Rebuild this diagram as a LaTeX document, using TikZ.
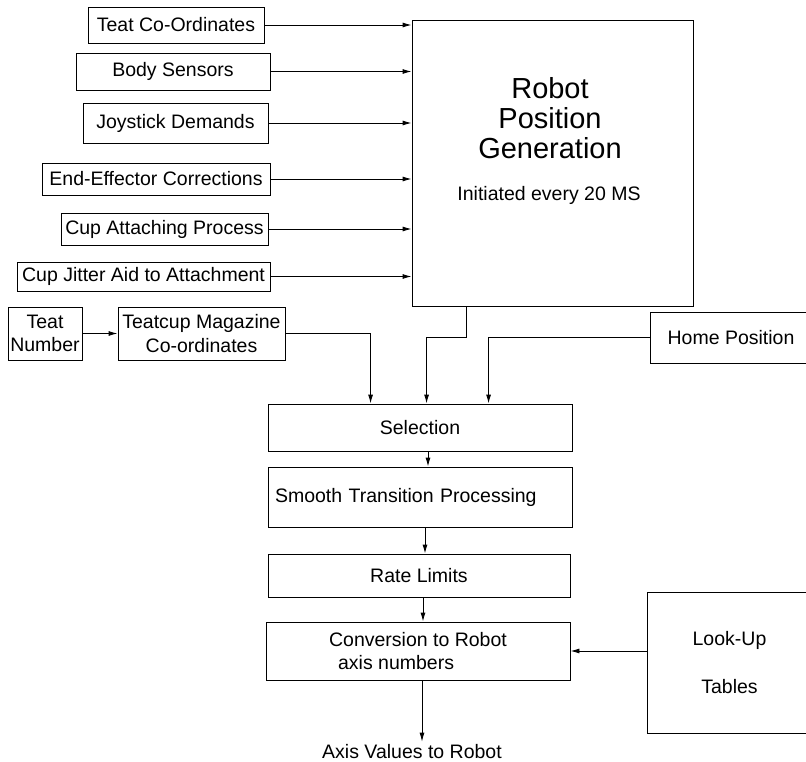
\documentclass[tikz,border=0pt]{standalone}
\usepackage{fontspec}
\setmainfont{Liberation Sans}
\usetikzlibrary{arrows.meta, positioning}
\tikzset{
  inbox/.style={draw, line width=0.9pt, inner sep=2pt,
              minimum width=#1, align=center,
              font=\fontsize{19.5}{23.4}\selectfont},
  procbox/.style={draw, line width=0.9pt, inner sep=2pt,
              minimum width=#1, align=center,
              font=\fontsize{19.5}{23.4}\selectfont},
  plaintext/.style={inner sep=3pt, align=center,
              font=\fontsize{19.5}{23.4}\selectfont},
  flowarr/.style={-{Latex[length=9pt,width=5pt]}, line width=0.9pt},
}

\begin{document}
\begin{tikzpicture}[x=1pt, y=-1pt]
  \useasboundingbox (0,0) rectangle (806,762);

  % inputs to the position generator
  \node[inbox=176, minimum height=36] (teat)   at (176,25)    {Teat Co-Ordinates};
  \node[inbox=194, minimum height=37] (body)   at (173,71.5)  {Body Sensors};
  \node[inbox=185, minimum height=40] (joy)    at (175.5,123) {Joystick Demands};
  \node[inbox=228, minimum height=32] (endeff) at (156,179)   {End-Effector Corrections};
  \node[inbox=207, minimum height=32] (cupatt) at (164.5,229) {Cup Attaching Process};
  \node[inbox=253, minimum height=29] (jitter) at (143.5,276.5) {Cup Jitter Aid to Attachment};

  \node[procbox=281, minimum height=286] (rpg) at (552.5,163) {};
  \node[plaintext, font=\fontsize{29}{30}\selectfont] (rpgtitle) at (550,118)
    {Robot\\Position\\Generation};
  \node[plaintext] (rpgnote) at (549,195) {Initiated every 20 MS};

  \foreach \src in {teat, body, joy, endeff, cupatt, jitter}
    \draw[flowarr] (\src.east) -- (\src.east -| rpg.west);

  % magazine and home inputs
  \node[inbox=74,  minimum height=53] (tnum) at (45,333.5)    {Teat\\Number};
  \node[inbox=167, minimum height=53] (mag)  at (201.5,333.5) {Teatcup Magazine\\Co-ordinates};
  \node[inbox=162, minimum height=51] (home) at (731,337.5)   {Home Position};

  % processing chain
  \node[procbox=304, minimum height=47] (sel)    at (420,427.5) {Selection};
  \node[procbox=304, minimum height=60, align=left, text width=290,
        inner xsep=7pt] (smooth) at (420,497) {Smooth Transition Processing};
  \node[procbox=302, minimum height=43] (rate)   at (419,575.5) {Rate Limits};
  \node[procbox=304, minimum height=58, align=left] (conv) at (418,651)
    {Conversion to Robot\\\hspace*{9pt}axis numbers};
  \node[procbox=165, minimum height=141] (lut) at (729.5,662.5) {Look-Up\\[24pt]Tables};
  \node[plaintext] (axisout) at (412,752) {Axis Values to Robot};

  \draw[flowarr] (tnum) -- (mag);
  \draw[flowarr] (mag.east) -| ([xshift=103pt]sel.north west);
  \draw[flowarr] ([xshift=55pt]rpg.south west) -- ++(0,31) -| ([xshift=159pt]sel.north west);
  \draw[flowarr] (home.west) -| ([xshift=221pt]sel.north west);
  \draw[flowarr] ([xshift=8pt]sel.south) -- ([xshift=8pt]sel.south |- smooth.north);
  \draw[flowarr] ([xshift=5pt]smooth.south) -- ([xshift=5pt]smooth.south |- rate.north);
  \draw[flowarr] ([xshift=4pt]rate.south) -- ([xshift=4pt]rate.south |- conv.north);
  \draw[flowarr] (lut.west |- conv.east) -- (conv.east);
  \draw[flowarr] ([xshift=4pt]conv.south) -- ([xshift=4pt]conv.south |- axisout.north);
\end{tikzpicture}
\end{document}
